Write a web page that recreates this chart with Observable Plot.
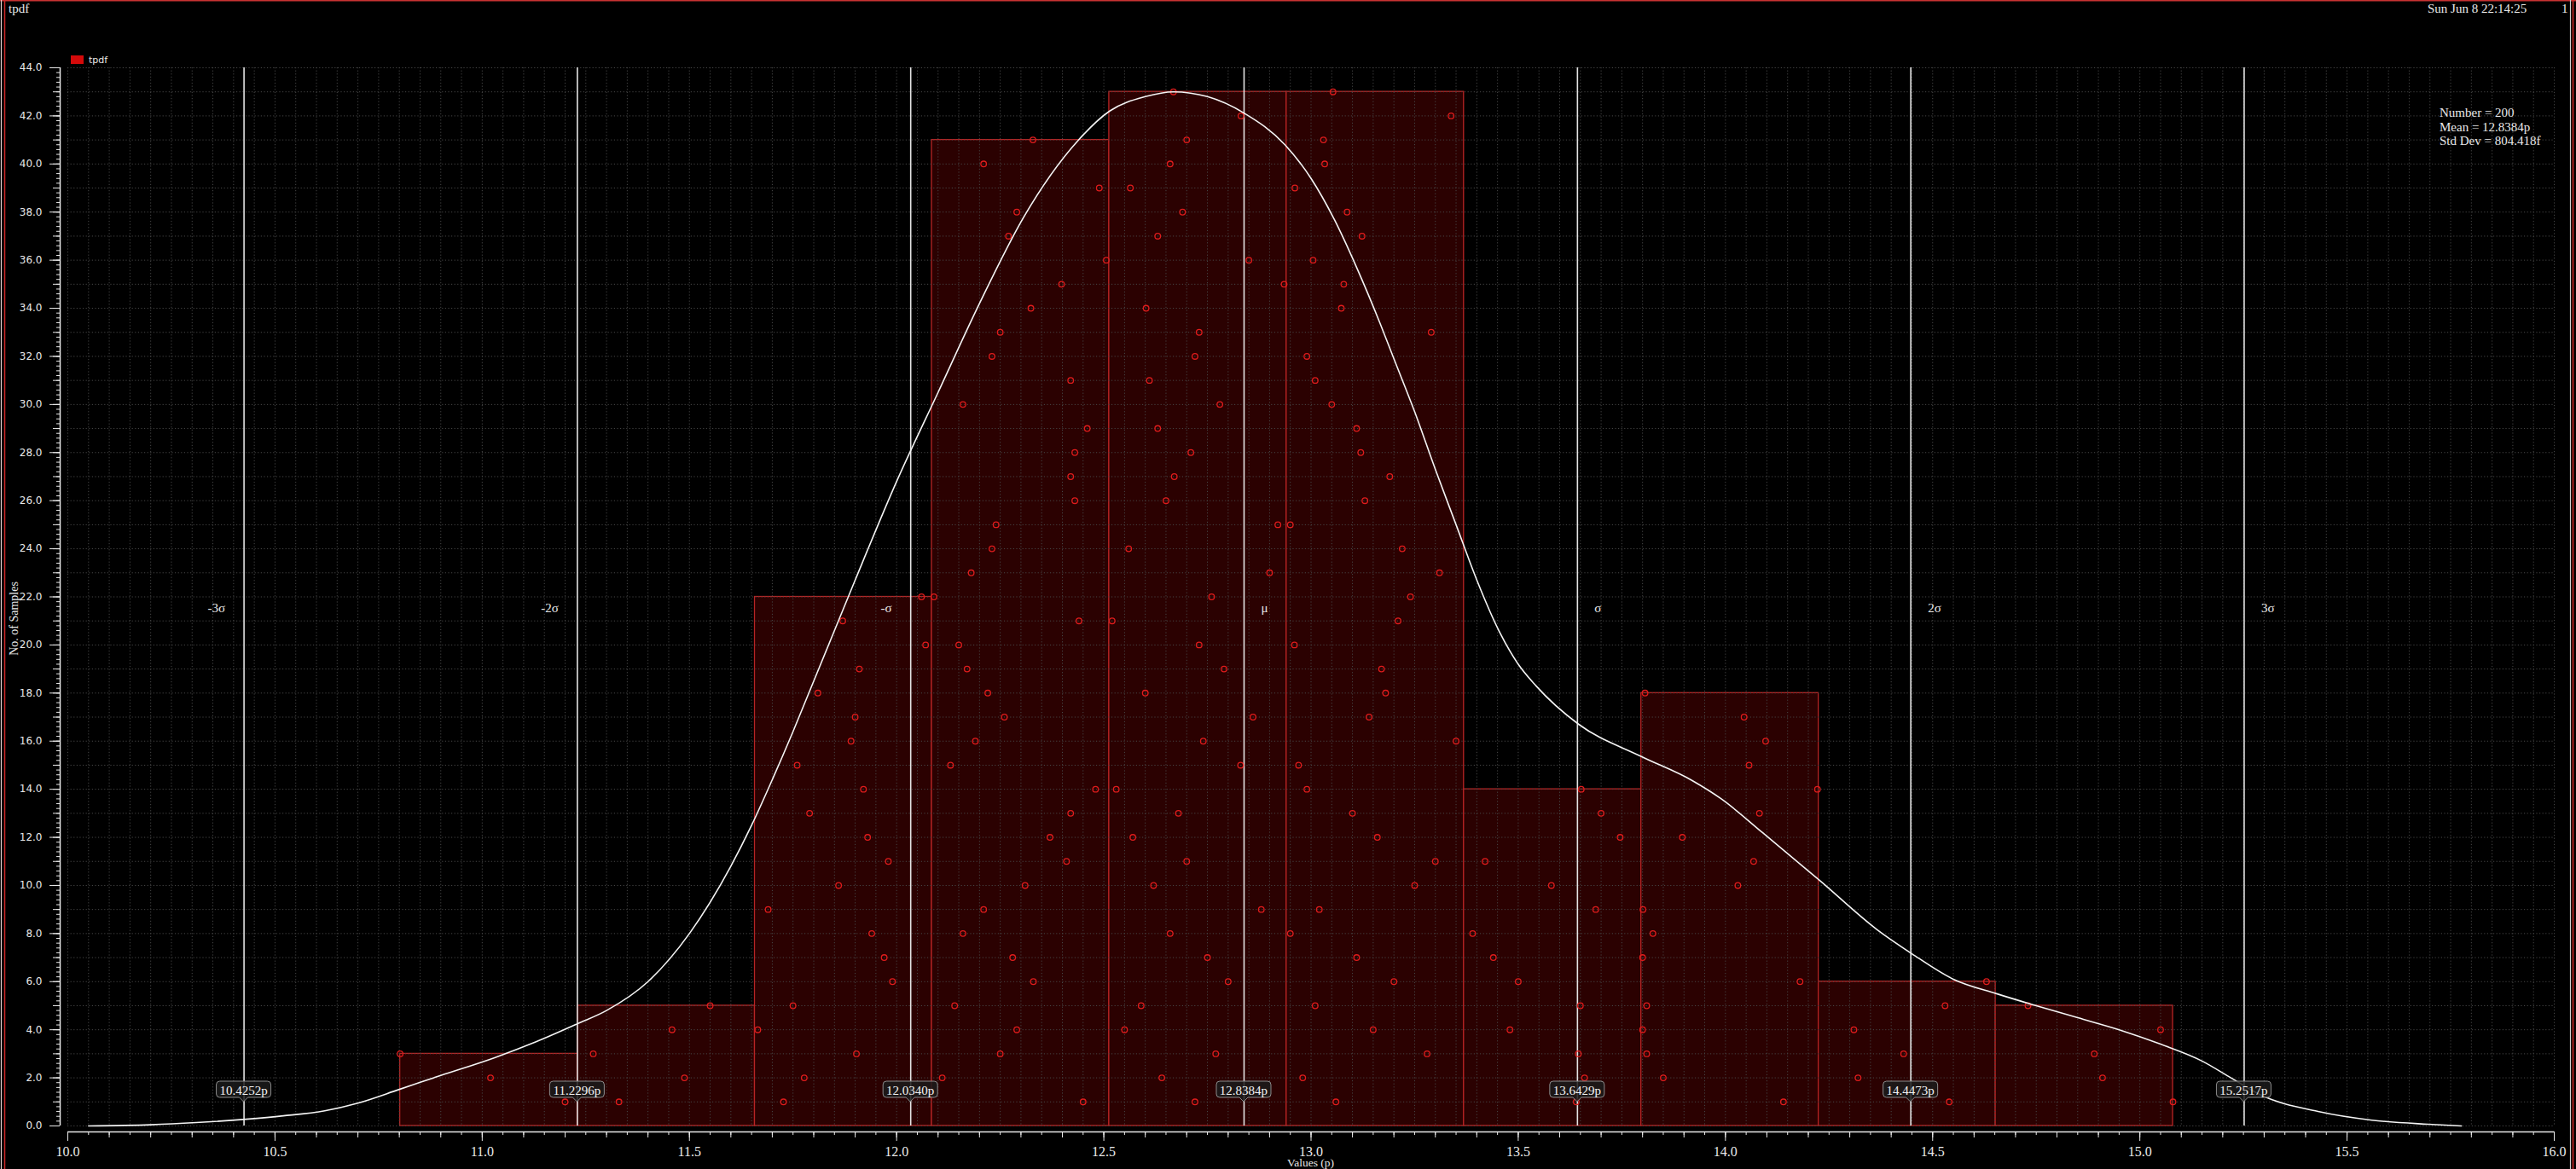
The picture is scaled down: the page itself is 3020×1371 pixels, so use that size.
<!DOCTYPE html>
<html><head><meta charset="utf-8">
<script src="https://cdn.jsdelivr.net/npm/d3@7"></script>
<script src="https://cdn.jsdelivr.net/npm/@observablehq/plot@0.6"></script>
<style>
html,body{margin:0;padding:0;background:#000;}
#chart{width:3020px;height:1371px;overflow:hidden;background:#000;}
</style></head><body><div id="chart"></div>
<script>
// ---------- data ----------
const chartTitle = "tpdf";
const legendName = "tpdf";
const dateText = "Sun Jun 8 22:14:25";
const pageNumber = "1";
const statsLines = ["Number = 200", "Mean = 12.8384p", "Std Dev = 804.418f"];
const xLabel = "Values (p)";
const yLabel = "No. of Samples";

const binEdges = [10.802, 11.230, 11.658, 12.085, 12.513, 12.941, 13.369, 13.797, 14.225, 14.652, 15.080];
const binCounts = [3, 5, 22, 41, 43, 43, 14, 18, 6, 5];

// sample x values per bin, listed by stacking level (1, 2, 3 ...)
const bin1 = [11.20, 11.02, 10.802];
const bin2 = [11.33, 11.488, 11.268, 11.458, 11.55];
const bin3 = [11.727, 11.777, 11.903, 11.665, 11.75, 11.99, 11.97, 11.94, 11.69, 11.86, 11.98, 11.93, 11.79, 11.92, 11.76, 11.89, 11.90, 11.81, 11.91, 12.07, 11.87, 12.06];
const bin4 = [12.45, 12.11, 12.25, 12.29, 12.14, 12.33, 12.28, 12.16, 12.21, 12.31, 12.41, 12.37, 12.42, 12.48, 12.13, 12.19, 12.26, 12.22, 12.17, 12.15, 12.44, 12.09, 12.18, 12.23, 12.24, 12.43, 12.42, 12.43, 12.46, 12.16, 12.42, 12.23, 12.25, 12.324, 12.398, 12.506, 12.27, 12.29, 12.489, 12.21, 12.329];
const bin5 = [12.72, 12.64, 12.77, 12.55, 12.59, 12.80, 12.75, 12.66, 12.88, 12.62, 12.70, 12.57, 12.68, 12.53, 12.83, 12.74, 12.86, 12.60, 12.79, 12.73, 12.52, 12.76, 12.90, 12.56, 12.92, 12.65, 12.67, 12.71, 12.63, 12.78, 12.61, 12.72, 12.73, 12.602, 12.935, 12.85, 12.63, 12.69, 12.564, 12.66, 12.70, 12.831, 12.668];
const bin6 = [13.06, 12.98, 13.28, 13.15, 13.01, 13.20, 13.11, 12.95, 13.02, 13.25, 13.30, 13.16, 13.10, 12.99, 12.97, 13.35, 13.14, 13.18, 13.17, 12.96, 13.21, 13.24, 13.31, 13.22, 12.95, 13.13, 13.19, 13.12, 13.11, 13.05, 13.01, 12.99, 13.29, 13.073, 13.079, 13.005, 13.123, 13.087, 12.961, 13.033, 13.03, 13.338, 13.053];
const bin7 = [13.64, 13.66, 13.645, 13.48, 13.65, 13.50, 13.44, 13.39, 13.687, 13.58, 13.42, 13.746, 13.70, 13.652];
const bin8 = [14.14, 13.85, 13.81, 13.80, 13.81, 14.18, 13.80, 13.825, 13.801, 14.03, 14.068, 13.896, 14.082, 14.222, 14.057, 14.097, 14.045, 13.806];
const bin9 = [14.54, 14.32, 14.43, 14.31, 14.53, 14.63];
const bin10 = [15.08, 14.91, 14.89, 15.05, 14.73];
const binSamples = [bin1, bin2, bin3, bin4, bin5, bin6, bin7, bin8, bin9, bin10];

// smoothed density curve (white)
const curveX = [10.05,10.2,10.31,10.43,10.52,10.62,10.7,10.8,10.9,11.03,11.13,11.23,11.3,11.4,11.5,11.6,11.65,11.7,11.75,11.8,11.85,11.9,12.0,12.1,12.2,12.307,12.437,12.514,12.6,12.668,12.75,12.84,12.937,13.0,13.056,13.11,13.166,13.2,13.25,13.3,13.35,13.4,13.454,13.5,13.543,13.646,13.796,13.92,13.99,14.09,14.23,14.366,14.45,14.55,14.654,14.75,14.85,14.95,15.05,15.15,15.22,15.29,15.43,15.56,15.695,15.776];
const curveY = [0,0.05,0.14,0.28,0.42,0.63,0.95,1.52,2.1,2.84,3.5,4.25,4.8,6.0,8.0,10.8,12.5,14.4,16.4,18.5,20.6,22.7,26.8,30.5,34.2,37.8,40.96,42.2,42.8,43.0,42.8,42.1,40.8,39.4,37.7,35.7,33.4,31.9,29.7,27.3,25.0,22.7,20.57,19.2,18.3,16.7,15.37,14.36,13.6,12.19,10.17,8.16,7.16,6.1,5.5,5.0,4.5,4.0,3.4,2.7,2.0,1.3,0.6,0.24,0.07,0];

const sigmaNames = ["-3σ", "-2σ", "-σ", "μ", "σ", "2σ", "3σ"];
const sigmaValues = [10.4252, 11.2296, 12.0340, 12.8384, 13.6429, 14.4473, 15.2517];
const sigmaLabels = ["10.4252p", "11.2296p", "12.0340p", "12.8384p", "13.6429p", "14.4473p", "15.2517p"];

const xDomain = [10, 16];
const yDomain = [0, 44];
const xMajorTicks = d3.range(0, 13).map(i => 10 + i * 0.5);
const xMidTicks = d3.range(0, 61).map(i => 10 + i * 0.1);
const xMinorTicks = d3.range(0, 121).map(i => 10 + i * 0.05);
const yMajorTicks = d3.range(0, 45, 2);
const yMidTicks = d3.range(0, 45, 1);
const yMinorTicks = d3.range(0, 221).map(i => i * 0.2);

// ---------- tables ----------
const bars = binCounts.map((n, i) => ({x1: binEdges[i], x2: binEdges[i + 1], n}));
const points = binSamples.flatMap(arr => arr.map((v, k) => ({x: v, y: k + 1})));
const curve = curveX.map((x, i) => ({x, y: curveY[i]}));
const sigmas = sigmaNames.map((name, i) => ({name, v: sigmaValues[i], label: sigmaLabels[i]}));
const sigNeg = sigmas.filter(d => d.name.startsWith("-"));
const sigPos = sigmas.filter(d => !d.name.startsWith("-"));

const SERIF = "Liberation Serif, Times New Roman, serif";
const SANS = "DejaVu Sans, sans-serif";
const FG = "#e8e8e8";
const GRID = "#474747";

// callouts drawn through the plot's x scale
function callouts(index, scales, values, dims) {
  const g = d3.create("svg:g");
  const yb = dims.height - dims.marginBottom;
  for (const s of sigmas) {
    const cx = scales.x(s.v);
    const w = 64, top = yb - 52, bot = yb - 33, tip = yb - 28, r = 4;
    const l = cx - w / 2, rr = cx + w / 2;
    g.append("path")
      .attr("d", `M${l + r},${top}H${rr - r}Q${rr},${top} ${rr},${top + r}V${bot - r}Q${rr},${bot} ${rr - r},${bot}H${cx + 5}L${cx},${tip}L${cx - 5},${bot}H${l + r}Q${l},${bot} ${l},${bot - r}V${top + r}Q${l},${top} ${l + r},${top}Z`)
      .attr("fill", "#1b1b1b").attr("fill-opacity", 0.85)
      .attr("stroke", "#8c8c8c").attr("stroke-width", 1);
    g.append("text").attr("x", cx).attr("y", yb - 36.5)
      .attr("text-anchor", "middle").attr("fill", "#f2f2f2")
      .attr("font-family", SERIF).attr("font-size", 15).text(s.label);
  }
  return g.node();
}

// page chrome (frame, title, date, legend, statistics, axis names)
function chrome(index, scales, values, dims) {
  const g = d3.create("svg:g").attr("text-anchor", "start");
  const W = dims.width, H = dims.height;
  g.append("line").attr("x1", 0).attr("x2", W).attr("y1", 0.75).attr("y2", 0.75).attr("stroke", "#c83232").attr("stroke-width", 1.5);
  g.append("line").attr("x1", 1.5).attr("x2", 1.5).attr("y1", 0).attr("y2", H).attr("stroke", "#e6d0d0").attr("stroke-width", 1.2);
  g.append("line").attr("x1", 5.5).attr("x2", 5.5).attr("y1", 0).attr("y2", H).attr("stroke", "#d02828").attr("stroke-width", 1.5);
  g.append("line").attr("x1", W - 6.5).attr("x2", W - 6.5).attr("y1", 0).attr("y2", H).attr("stroke", "#cfcfcf").attr("stroke-width", 1.2);
  g.append("line").attr("x1", W - 3.5).attr("x2", W - 3.5).attr("y1", 0).attr("y2", H).attr("stroke", "#d02828").attr("stroke-width", 1.5);
  const txt = (x, y, t, size, fam, anchor = "start") =>
    g.append("text").attr("x", x).attr("y", y).attr("text-anchor", anchor)
      .attr("fill", FG).attr("font-family", fam).attr("font-size", size).text(t);
  txt(10, 15, chartTitle, 15, SERIF);
  txt(W - 174, 15, dateText, 15, SERIF);
  txt(W - 17, 15, pageNumber, 15, SERIF);
  const lx = dims.marginLeft + 4, ly = dims.marginTop - 14;
  g.append("rect").attr("x", lx).attr("y", ly).attr("width", 15).attr("height", 10).attr("fill", "#d40a0a");
  txt(lx + 21, ly + 8.5, legendName, 11, SANS);
  const sx = W - 160, sy = dims.marginTop + 58;
  statsLines.forEach((t, i) => txt(sx, sy + i * 16.5, t, 15, SERIF));
  g.append("text").attr("transform", `translate(21,${(dims.marginTop + H - dims.marginBottom) / 2 + 26}) rotate(-90)`)
    .attr("text-anchor", "middle").attr("fill", FG).attr("font-family", SERIF).attr("font-size", 14).text(yLabel);
  txt((dims.marginLeft + W - dims.marginRight) / 2, H - 3, xLabel, 13.5, SERIF, "middle");
  return g.node();
}

const chart = Plot.plot({
  width: 3020,
  height: 1371,
  marginLeft: 79,
  marginRight: 26,
  marginTop: 79,
  marginBottom: 51,
  style: {background: "#000", color: FG, fontFamily: SERIF, overflow: "hidden"},
  x: {domain: xDomain},
  y: {domain: yDomain},
  marks: [
    Plot.rectY(bars, {x1: "x1", x2: "x2", y: "n", fill: "#2b0101", stroke: "#b82424", strokeWidth: 1.3}),
    Plot.gridY({ticks: yMidTicks, stroke: GRID, strokeOpacity: 1, strokeDasharray: "1.2,2.4", strokeWidth: 1}),
    Plot.gridX({ticks: xMinorTicks, stroke: GRID, strokeOpacity: 1, strokeDasharray: "1.2,2.4", strokeWidth: 1}),
    Plot.ruleX(sigmaValues, {stroke: "#e4e4e4", strokeWidth: 1.6}),
    Plot.text(sigNeg, {x: "v", text: "name", frameAnchor: "middle", dy: 13, dx: -22, textAnchor: "end", fill: FG, fontFamily: SERIF, fontSize: 15}),
    Plot.text(sigPos, {x: "v", text: "name", frameAnchor: "middle", dy: 13, dx: 20, textAnchor: "start", fill: FG, fontFamily: SERIF, fontSize: 15}),
    Plot.dot(points, {x: "x", y: "y", r: 3.3, stroke: "#e01c1c", strokeWidth: 1.3, fill: "none"}),
    Plot.line(curve, {x: "x", y: "y", stroke: "#f4f4f4", strokeWidth: 1.6, curve: "monotone-x"}),
    callouts,
    Plot.ruleY([yDomain[0]], {dy: 7, stroke: FG, strokeWidth: 1.5}),
    Plot.axisX({ticks: xMinorTicks, tickSize: 4, dy: 7, tickFormat: () => "", stroke: FG, label: null}),
    Plot.axisX({ticks: xMidTicks, tickSize: 7, dy: 7, tickFormat: () => "", stroke: FG, label: null}),
    Plot.axisX({ticks: xMajorTicks, tickSize: 11, tickPadding: 6, dy: 7, tickFormat: d => d.toFixed(1), stroke: FG, fill: FG, fontSize: 16, fontFamily: SERIF, label: null}),
    Plot.ruleX([xDomain[0]], {dx: -9, stroke: FG, strokeWidth: 1.5}),
    Plot.axisY({ticks: yMinorTicks, tickSize: 4, dx: -9, tickFormat: () => "", stroke: FG, label: null}),
    Plot.axisY({ticks: yMidTicks, tickSize: 8, dx: -9, tickFormat: () => "", stroke: FG, label: null}),
    Plot.axisY({ticks: yMajorTicks, tickSize: 12, tickPadding: 9, dx: -9, tickFormat: d => d.toFixed(1), stroke: FG, fill: FG, fontSize: 12, fontFamily: SANS, label: null}),
    chrome
  ]
});
document.getElementById("chart").appendChild(chart);
</script>
</body></html>
